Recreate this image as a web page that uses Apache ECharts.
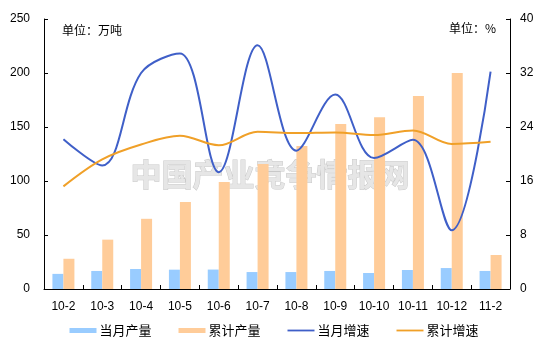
<!DOCTYPE html>
<html><head><meta charset="utf-8">
<script src="https://cdn.jsdelivr.net/npm/echarts@6/dist/echarts.min.js"></script>
<style>html,body{margin:0;padding:0;background:#fff}#c{width:548px;height:352px}</style>
</head><body><div id="c"></div>
<script>
var categories = ['10-2','10-3','10-4','10-5','10-6','10-7','10-8','10-9','10-10','10-11','10-12','11-2'];
var monthOutput = [14, 16.7, 18.5, 17.9, 18, 15.7, 15.7, 16.7, 14.8, 17.6, 19.4, 16.7];
var cumOutput = [28, 45.7, 65, 80.5, 99, 115.7, 132.4, 152.8, 159, 178.7, 200, 31.5];
var monthGrowth = [22.2, 18.3, 32.0, 34.9, 17.3, 36.1, 20.5, 28.8, 19.4, 22.1, 8.7, 32.2];
var cumGrowth = [15.2, 19.2, 21.4, 22.7, 21.3, 23.3, 23.1, 23.2, 22.8, 23.5, 21.5, 21.8];
var leftTicks = [0, 50, 100, 150, 200, 250];
var rightTicks = [0, 8, 16, 24, 32, 40];

var font = 'Liberation Sans, Arial, sans-serif';
var cjk = '"Noto Sans CJK SC", sans-serif';
var lineIcon = 'path://M0,0L30,0L30,2L0,2Z';
var chart = echarts.init(document.getElementById('c'));
chart.setOption({
  animation: false,
  backgroundColor: '#fff',
  grid: {left: 44, right: 38, top: 19, bottom: 63},
  graphic: [
    {type: 'text', left: 130, top: 158, z: -10, silent: true,
     style: {text: '中国产业竞争情报网', fontSize: 31, fontWeight: 'bold', fontFamily: cjk,
             fill: '#e6e6e6', stroke: '#c8c8c8', lineWidth: 1}},
    {type: 'text', left: 62, top: 24, style: {text: '单位：万吨', fontSize: 12, fontFamily: cjk, fill: '#000'}},
    {type: 'text', right: 52, top: 22, style: {text: '单位：%', fontSize: 12, fontFamily: cjk, fill: '#000'}}
  ],
  legend: {
    bottom: 10, left: 'center', itemWidth: 27, itemHeight: 5, itemGap: 27,
    textStyle: {fontSize: 13, fontFamily: cjk, color: '#000', padding: [0,0,0,-2]},
    data: [{name: '当月产量', icon: 'rect'}, {name: '累计产量', icon: 'rect'},
           {name: '当月增速', icon: lineIcon}, {name: '累计增速', icon: lineIcon}]
  },
  xAxis: {
    type: 'category', data: categories,
    axisLine: {lineStyle: {color: '#000', width: 1}},
    axisTick: {show: true, inside: true, length: 4, alignWithLabel: false, lineStyle: {color: '#000'}},
    axisLabel: {color: '#000', fontSize: 12, fontFamily: font, margin: 12, interval: 0}
  },
  yAxis: [
    {type: 'value', min: 0, max: 250, interval: 50,
     axisLine: {show: true, lineStyle: {color: '#000'}},
     axisTick: {show: true, inside: true, length: 4, lineStyle: {color: '#000'}},
     axisLabel: {color: '#000', fontSize: 12, fontFamily: font, margin: 14},
     splitLine: {show: false}},
    {type: 'value', min: 0, max: 40, interval: 8,
     axisLine: {show: true, lineStyle: {color: '#000'}},
     axisTick: {show: true, inside: true, length: 4, lineStyle: {color: '#000'}},
     axisLabel: {color: '#000', fontSize: 12, fontFamily: font, margin: 10},
     splitLine: {show: false}}
  ],
  series: [
    {name: '当月产量', type: 'bar', data: monthOutput, barWidth: 11, barGap: '0%',
     itemStyle: {color: '#99CCFF'}},
    {name: '累计产量', type: 'bar', data: cumOutput, barWidth: 11, barGap: '0%',
     itemStyle: {color: '#FFCC99'}},
    {name: '当月增速', type: 'line', yAxisIndex: 1, data: monthGrowth, smooth: 0.35,
     symbol: 'none', lineStyle: {color: '#3F5FC8', width: 2}, itemStyle: {color: '#3F5FC8'}},
    {name: '累计增速', type: 'line', yAxisIndex: 1, data: cumGrowth, smooth: 0.35,
     symbol: 'none', lineStyle: {color: '#F0A028', width: 2}, itemStyle: {color: '#F0A028'}}
  ]
});
</script></body></html>
